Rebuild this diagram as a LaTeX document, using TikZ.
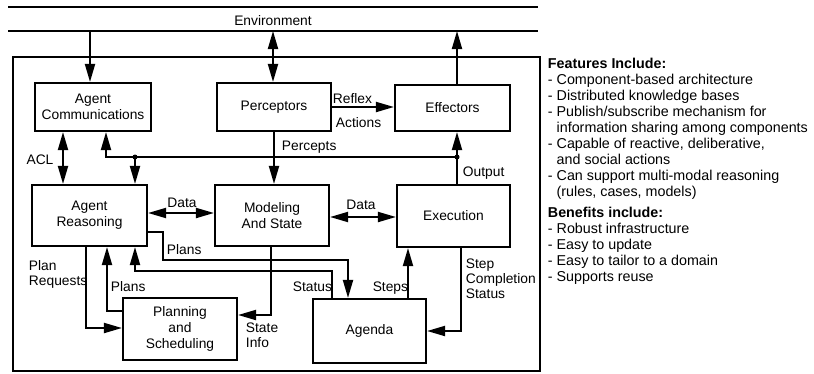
\documentclass[tikz,border=0pt]{standalone}
\usepackage{fontspec}
\setmainfont{Liberation Sans}
\usetikzlibrary{arrows.meta}
\begin{document}
\begin{tikzpicture}[x=1bp,y=-1bp,line width=1.9bp,
  tip/.style={-{Triangle[length=18bp,width=10bp]}},
  dtip/.style={{Triangle[length=18bp,width=10bp]}-{Triangle[length=18bp,width=10bp]}},
  box/.style={draw,line width=2.1bp,align=center,inner sep=0pt,
    font=\fontsize{13.8bp}{16bp}\selectfont},
  lbl/.style={inner sep=0pt,font=\fontsize{13.8bp}{15bp}\selectfont},
  side/.style={anchor=north west,align=left,inner sep=0pt,
    font=\fontsize{14.3bp}{16bp}\selectfont},
  jdot/.style={circle,fill,inner sep=0pt,minimum size=5bp}]
\useasboundingbox (0,0) rectangle (814,373);
% environment band
\draw (8,7) -- (538,7);
\draw (8,31) -- (538,31);
\node[lbl] (env) at (273,21) {Environment};
% outer frame
\draw[line width=2.1bp] (13,57) rectangle (540,371);
% boxes
\node[box,minimum width=116bp,minimum height=48bp] (ac) at (93,107) {Agent\\Communications};
\node[box,minimum width=114bp,minimum height=48bp] (per) at (274,107) {Perceptors};
\node[box,minimum width=115bp,minimum height=46bp] (eff) at (452.5,108) {Effectors};
\node[box,minimum width=115bp,minimum height=61bp] (ar) at (89.5,215.5) {Agent\\Reasoning};
\node[box,minimum width=114bp,minimum height=61bp] (ms) at (272,215.5) {Modeling\\And State};
\node[box,minimum width=113bp,minimum height=62bp] (ex) at (453.5,216) {Execution};
\node[box,minimum width=114bp,minimum height=62bp] (ps) at (180,329) {Planning\\and\\Scheduling};
\node[box,minimum width=113bp,minimum height=64bp] (ag) at (369.5,331) {Agenda};
% guide coordinates
\coordinate (e1) at (90,31);
\coordinate (e2) at (273,31);
\coordinate (e3) at (457,31);
\coordinate (gp) at (274,0);
\coordinate (jOut) at (457,157);
\coordinate (jAC) at (106,157);
\coordinate (jAR) at (135,157);
\coordinate (gacl) at (63,0);
\coordinate (gd1) at (0,213);
\coordinate (gd2) at (0,217);
\coordinate (pl1) at (163,232);
\coordinate (pl2) at (163,260);
\coordinate (pl3) at (348,260);
\coordinate (st1) at (332,271);
\coordinate (st2) at (135,271);
\coordinate (pp1) at (107,311);
\coordinate (pr1) at (86,328);
\coordinate (si1) at (271,315);
\coordinate (gsteps) at (408,0);
\coordinate (sc1) at (461,331);
% environment links
\draw[tip] (e1) -- (ac.north -| e1);
\draw[dtip] (e2) -- (per.north -| e2);
\draw[tip] (eff.north -| e3) -- (e3);
% reflex actions
\draw[tip] (per.east) -- (per.east -| eff.west);
\node[lbl,anchor=west] (reflex) at (332,99) {Reflex};
\node[lbl,anchor=west] (actions) at (335,123) {Actions};
% percepts
\draw[tip] (per.south -| gp) -- (ms.north -| gp);
\node[lbl,anchor=west] (percepts) at (281,147) {Percepts};
% output and bus
\draw[tip] (ex.north -| jOut) -- (eff.south -| jOut);
\node[lbl,anchor=west] (output) at (462,173) {Output};
\draw[tip] (jOut) -- (jAC) -- (ac.south -| jAC);
\draw[tip] (jAR) -- (ar.north -| jAR);
\node[jdot] (d1) at (jOut) {};
\node[jdot] (d2) at (jAR) {};
% ACL
\draw[dtip] (ac.south -| gacl) -- (ar.north -| gacl);
\node[lbl] (acl) at (40,160) {ACL};
% data
\draw[dtip] (ar.east |- gd1) -- (ms.west |- gd1);
\node[lbl] (data1) at (182,203) {Data};
\draw[dtip] (ms.east |- gd2) -- (ex.west |- gd2);
\node[lbl] (data2) at (361,205) {Data};
% plans to agenda
\draw[tip] (ar.east |- pl1) -- (pl1) -- (pl2) -- (pl3) -- (ag.north -| pl3);
\node[lbl,anchor=west] (plans1) at (166,250) {Plans};
% status
\draw[tip] (ag.north -| st1) -- (st1) -- (st2) -- (ar.south -| st2);
\node[lbl,anchor=east] (status) at (333,287) {Status};
% plans from planning
\draw[tip] (ps.west |- pp1) -- (pp1) -- (ar.south -| pp1);
\node[lbl,anchor=west] (plans2) at (110,287) {Plans};
% plan requests
\draw[tip] (ar.south -| pr1) -- (pr1) -- (ps.west |- pr1);
\node[lbl,anchor=west,align=left] (preq) at (28,274.5) {Plan\\Requests};
% state info
\draw[tip] (ms.south -| si1) -- (si1) -- (ps.east |- si1);
\node[lbl,anchor=west,align=left] (sinfo) at (245,335.5) {State\\Info};
% steps
\draw[tip] (ag.north -| gsteps) -- (ex.south -| gsteps);
\node[lbl,anchor=east] (steps) at (409,288) {Steps};
% step completion status
\draw[tip] (ex.south -| sc1) -- (sc1) -- (ag.east |- sc1);
\node[lbl,anchor=west,align=left] (scs) at (465,278.5) {Step\\Completion\\Status};
% right-hand text
\node[side] (feat) at (547,57) {%
  \textbf{Features Include:}\\
  - Component-based architecture\\
  - Distributed knowledge bases\\
  - Publish/subscribe mechanism for\\
  \phantom{- }information sharing among components\\
  - Capable of reactive, deliberative,\\
  \phantom{- }and social actions\\
  - Can support multi-modal reasoning\\
  \phantom{- }(rules, cases, models)};
\node[side] (ben) at (547,206) {%
  \textbf{Benefits include:}\\
  - Robust infrastructure\\
  - Easy to update\\
  - Easy to tailor to a domain\\
  - Supports reuse};
\end{tikzpicture}
\end{document}
